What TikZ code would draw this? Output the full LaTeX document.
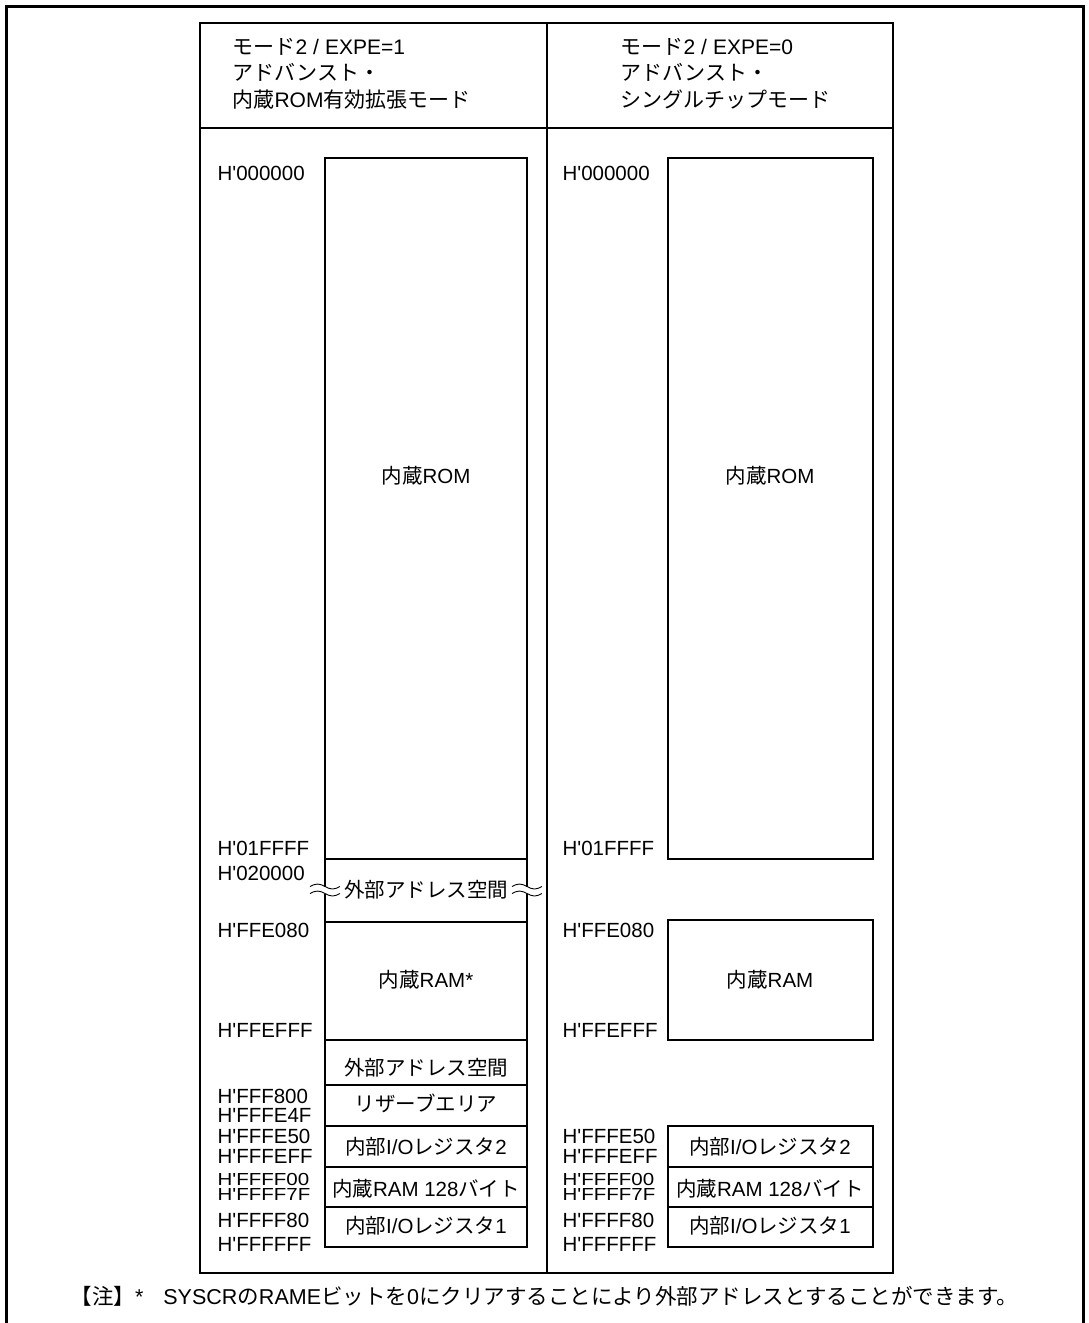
\documentclass[tikz,border=0pt]{standalone}
\usepackage{fontspec}
\setmainfont{Liberation Sans}
\newfontfamily\jp{Noto Sans CJK JP}
\newcommand{\J}[1]{{\jp #1}}
\newcommand{\adr}[1]{H\textquotesingle#1}
\newcommand{\sqadr}[1]{\scalebox{1}[0.85]{\adr{#1}}}

\begin{document}
\begin{tikzpicture}[x=1pt,y=-1pt,line width=1.1pt,
  lbl/.style={anchor=base west,inner sep=0pt,font=\fontsize{20.5}{24}\selectfont},
  head/.style={lbl,font=\fontsize{21}{24}\selectfont},
  txt/.style={anchor=base,inner sep=0pt,font=\fontsize{20.5}{24}\selectfont},
  brk/.pic={
    \fill[white] (-1.6,-3.5) rectangle (1.6,3.5);
    \foreach \d in {-3.5,3.5}
      \draw[line width=0.9pt] (-15,\d) sin (-7.5,\d-2.5) cos (0,\d) sin (7.5,\d+2.5) cos (15,\d);
  }]
  \useasboundingbox (0,0) rectangle (1088,1323);
  % outer frame and table
  \draw[line width=3pt] (6,1323) -- (6,6) -- (1083,6) -- (1083,1323);
  \draw (200,23) rectangle (893,1273);
  \draw (200,128) -- (893,128) (547,23) -- (547,1273);

  % headers
  \node[head] (hA1) at (232,54.5) {\J{モード}2\hspace{6pt}/\hspace{6pt}EXPE=1};
  \node[head] (hA2) at (232,80.5) {\J{アドバンスト・}};
  \node[head] (hA3) at (232,107.5) {\J{内蔵}ROM\J{有効拡張モード}};
  \node[head] (hB1) at (620,54.5) {\J{モード}2\hspace{6pt}/\hspace{6pt}EXPE=0};
  \node[head] (hB2) at (620,80.5) {\J{アドバンスト・}};
  \node[head] (hB3) at (620,107.5) {\J{シングルチップモード}};

  % mode 2 / EXPE=1
  \draw (325,158) rectangle (527,1247);
  \draw (325,859) -- (527,859) (325,922) -- (527,922) (325,1040) -- (527,1040)
        (325,1085) -- (527,1085) (325,1126) -- (527,1126) (325,1167) -- (527,1167)
        (325,1207) -- (527,1207);
  \pic at (325,890) {brk};
  \pic at (527,890) {brk};
  \node[txt] (romA) at (426,483.5) {\J{内蔵}ROM};
  \node[txt] (extA) at (426,897.5) {\J{外部アドレス空間}};
  \node[txt] (ramA) at (426,987.5) {\J{内蔵}RAM*};
  \node[txt] (extB) at (426,1075.5) {\J{外部アドレス空間}};
  \node[txt] (rsvA) at (426,1111.5) {\J{リザーブエリア}};
  \node[txt] (ioA2) at (426,1154.5) {\J{内部}I/O\J{レジスタ}2};
  \node[txt] (rmA) at (426,1196.5) {\J{内蔵}RAM 128\J{バイト}};
  \node[txt] (ioA1) at (426,1233.5) {\J{内部}I/O\J{レジスタ}1};

  \node[lbl] (aA1) at (217,180.5) {\adr{000000}};
  \node[lbl] (aA2) at (217,855.5) {\adr{01FFFF}};
  \node[lbl] (aA3) at (217,880.5) {\adr{020000}};
  \node[lbl] (aA4) at (217,937.5) {\adr{FFE080}};
  \node[lbl] (aA5) at (217,1037.5) {\adr{FFEFFF}};
  \node[lbl] (aA6) at (217,1103) {\adr{FFF800}};
  \node[lbl] (aA7) at (217,1122.5) {\adr{FFFE4F}};
  \node[lbl] (aA8) at (217,1143) {\adr{FFFE50}};
  \node[lbl] (aA9) at (217,1163.5) {\adr{FFFEFF}};
  \node[lbl] (aA10) at (217,1185.5) {\sqadr{FFFF00}};
  \node[lbl] (aA11) at (217,1200.5) {\sqadr{FFFF7F}};
  \node[lbl] (aA12) at (217,1227) {\adr{FFFF80}};
  \node[lbl] (aA13) at (217,1251) {\adr{FFFFFF}};

  % mode 2 / EXPE=0
  \draw (668,158) rectangle (873,859);
  \draw (668,920) rectangle (873,1040);
  \draw (668,1126) rectangle (873,1247);
  \draw (668,1167) -- (873,1167) (668,1207) -- (873,1207);
  \node[txt] (romB) at (770,483.5) {\J{内蔵}ROM};
  \node[txt] (ramB) at (770,987.5) {\J{内蔵}RAM};
  \node[txt] (ioB2) at (770,1154.5) {\J{内部}I/O\J{レジスタ}2};
  \node[txt] (rmB) at (770,1196.5) {\J{内蔵}RAM 128\J{バイト}};
  \node[txt] (ioB1) at (770,1233.5) {\J{内部}I/O\J{レジスタ}1};

  \node[lbl] (aB1) at (562,180.5) {\adr{000000}};
  \node[lbl] (aB2) at (562,855.5) {\adr{01FFFF}};
  \node[lbl] (aB4) at (562,937.5) {\adr{FFE080}};
  \node[lbl] (aB5) at (562,1037.5) {\adr{FFEFFF}};
  \node[lbl] (aB8) at (562,1143) {\adr{FFFE50}};
  \node[lbl] (aB9) at (562,1163.5) {\adr{FFFEFF}};
  \node[lbl] (aB10) at (562,1185.5) {\sqadr{FFFF00}};
  \node[lbl] (aB11) at (562,1200.5) {\sqadr{FFFF7F}};
  \node[lbl] (aB12) at (562,1227) {\adr{FFFF80}};
  \node[lbl] (aB13) at (562,1251) {\adr{FFFFFF}};

  % note
  \node[lbl,font=\fontsize{21.5}{24}\selectfont] (note) at (70,1304)
    {\J{【注】}*\hspace{20pt}SYSCR\J{の}RAME\J{ビットを}0\J{にクリアすることにより外部アドレスとすることができます。}};
\end{tikzpicture}
\end{document}
